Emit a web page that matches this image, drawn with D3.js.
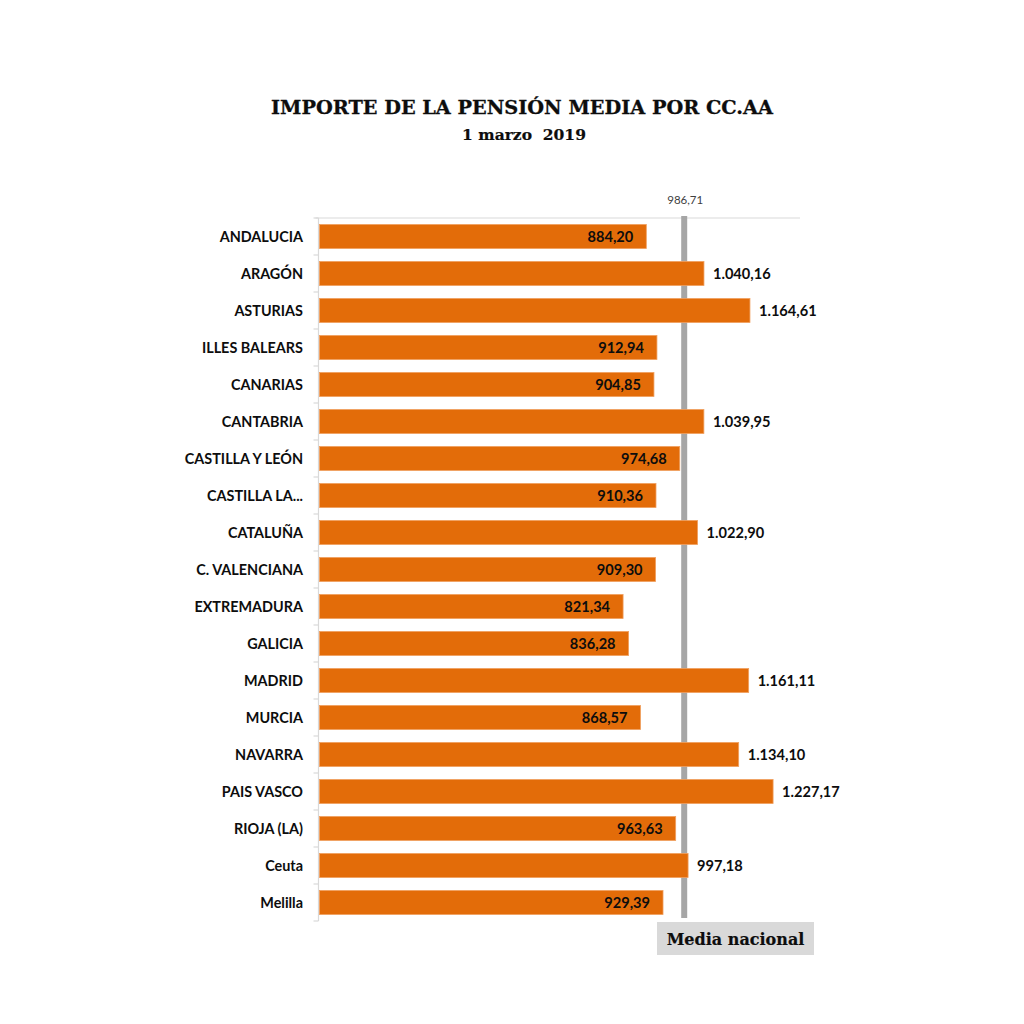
<!DOCTYPE html>
<html><head><meta charset="utf-8">
<script src="https://cdn.jsdelivr.net/npm/d3@7"></script>
<style>body{margin:0;background:#fff}</style>
</head><body>
<script>
const categories = ["ANDALUCIA","ARAGÓN","ASTURIAS","ILLES BALEARS","CANARIAS","CANTABRIA","CASTILLA Y LEÓN","CASTILLA LA...","CATALUÑA","C. VALENCIANA","EXTREMADURA","GALICIA","MADRID","MURCIA","NAVARRA","PAIS VASCO","RIOJA (LA)","Ceuta","Melilla"];
const values = [884.20,1040.16,1164.61,912.94,904.85,1039.95,974.68,910.36,1022.90,909.30,821.34,836.28,1161.11,868.57,1134.10,1227.17,963.63,997.18,929.39];
const mediaNacional = 986.71;
const title = "IMPORTE DE LA PENSIÓN MEDIA POR CC.AA";
const subtitle = "1 marzo  2019";

(function(){
const fmt = v => {
  const s = v.toFixed(2).split(".");
  const int = s[0].replace(/\B(?=(\d{3})+(?!\d))/g, ".");
  return int + "," + s[1];
};

const W = 1024, H = 1024;
const svg = d3.select("body").append("svg").attr("width", W).attr("height", H);

const pL = 319.5, pR = 800, pT = 218, pB = 921;
const x = d3.scaleLinear().domain([0, 1300]).range([pL, pR]);
const y = d3.scaleBand().domain(categories).range([pT, pB]).paddingInner(0.35).paddingOuter(0.175);
const ink = "#0d0d0d";

// title
svg.append("text").attr("x", 522).attr("y", 114).attr("text-anchor", "middle")
  .attr("font-family", "'DejaVu Serif', serif").attr("font-weight", "bold").attr("font-size", 19.3)
  .attr("fill", ink).attr("stroke", ink).attr("stroke-width", 0.3).text(title);
svg.append("text").attr("x", 524).attr("y", 140).attr("text-anchor", "middle")
  .attr("font-family", "'DejaVu Serif', serif").attr("font-weight", "bold").attr("font-size", 15.5)
  .attr("fill", ink).attr("stroke", ink).attr("stroke-width", 0.2).style("white-space","pre").text(subtitle);

// top gridline
svg.append("line").attr("x1", pL - 4).attr("x2", pR).attr("y1", pT).attr("y2", pT)
  .attr("stroke", "#d9d9d9").attr("stroke-width", 1.2);

// left axis with ticks at band boundaries
svg.append("line").attr("x1", pL - 1).attr("x2", pL - 1).attr("y1", pT).attr("y2", pB)
  .attr("stroke", "#d9d9d9").attr("stroke-width", 1.2);
d3.range(categories.length + 1).forEach(i => {
  const yy = pT + i * (pB - pT) / categories.length;
  svg.append("line").attr("x1", pL - 6).attr("x2", pL - 1).attr("y1", yy).attr("y2", yy)
    .attr("stroke", "#d9d9d9").attr("stroke-width", 1.2);
});

// category labels
svg.append("g").selectAll("text").data(categories).join("text")
  .attr("x", 303).attr("y", d => y(d) + y.bandwidth() / 2).attr("dy", "0.35em")
  .attr("text-anchor", "end").attr("font-family", "Lato, sans-serif").attr("font-weight", "bold")
  .attr("font-size", 14.4).attr("fill", ink).text(d => d);

// media line
svg.append("line").attr("x1", x(mediaNacional)).attr("x2", x(mediaNacional))
  .attr("y1", pT - 2).attr("y2", 918).attr("stroke", "#a6a6a6").attr("stroke-width", 6);

// bars
svg.append("g").selectAll("rect").data(values).join("rect")
  .attr("x", x(0)).attr("y", (d, i) => y(categories[i]))
  .attr("width", d => x(d) - x(0)).attr("height", y.bandwidth())
  .attr("fill", "#e36c09").attr("stroke", "#f0a060").attr("stroke-width", 0.8);

// value labels
svg.append("g").selectAll("text").data(values).join("text")
  .attr("x", d => d > mediaNacional ? x(d) + 9 : x(d) - 13)
  .attr("y", (d, i) => y(categories[i]) + y.bandwidth() / 2).attr("dy", "0.35em")
  .attr("text-anchor", d => d > mediaNacional ? "start" : "end")
  .attr("font-family", "Lato, sans-serif").attr("font-weight", "bold")
  .attr("font-size", 14.6).attr("fill", ink).text(d => fmt(d));

// media value label
svg.append("text").attr("x", x(mediaNacional) + 1).attr("y", 204).attr("text-anchor", "middle")
  .attr("font-family", "Lato, sans-serif").attr("font-size", 11.5).attr("fill", "#404040")
  .text(fmt(mediaNacional));

// media nacional box
svg.append("rect").attr("x", 657).attr("y", 922).attr("width", 157).attr("height", 33).attr("fill", "#d9d9d9");
svg.append("text").attr("x", 735.5).attr("y", 939).attr("dy", "0.35em").attr("text-anchor", "middle")
  .attr("font-family", "'DejaVu Serif', serif").attr("font-weight", "bold").attr("font-size", 16)
  .attr("fill", ink).attr("stroke", ink).attr("stroke-width", 0.2).text("Media nacional");
})();
</script>
</body></html>
